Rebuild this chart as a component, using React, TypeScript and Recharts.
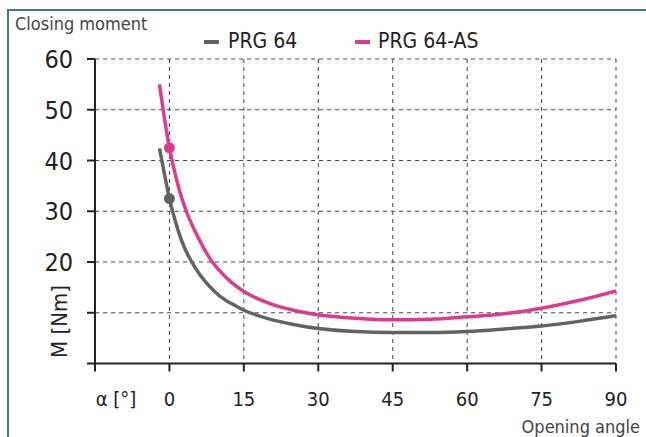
import React from "react"
import { CartesianGrid, Label, Line, LineChart, XAxis, YAxis } from "recharts"

const xTicks = [-15, 0, 15, 30, 45, 60, 75, 90]
const yTicks = [0, 10, 20, 30, 40, 50, 60]

const prg64Angles = [-2, -1, 0, 1, 2, 3, 4.5, 6, 8, 10, 12.5, 15, 20, 25, 30, 37.5, 45, 52.5, 60, 67.5, 75, 82.5, 90]
const prg64Moments = [42.4, 37.3, 32.5, 28.7, 25.5, 22.9, 20, 17.7, 15.3, 13.4, 11.8, 10.5, 8.8, 7.7, 6.9, 6.3, 6.1, 6.1, 6.3, 6.8, 7.4, 8.3, 9.4]

const prg64asAngles = [-2, -1, 0, 1, 2, 3.4, 5, 7, 8.5, 10, 12.5, 15, 20, 25, 30, 37.5, 45, 52.5, 60, 67.5, 75, 82.5, 90]
const prg64asMoments = [55, 48.3, 42.5, 38, 34.2, 30, 26.4, 22.6, 20.2, 18.4, 16, 14.2, 11.9, 10.5, 9.6, 8.9, 8.6, 8.7, 9.2, 9.8, 10.9, 12.4, 14.3]

const markerAngle = 0

const GRAY = "#626264"
const PINK = "#de3a8f"
const FONT = "'DejaVu Sans Condensed', 'DejaVu Sans', sans-serif"
const TXT = { fontFamily: FONT, fontStretch: "condensed" as const }

const prg64 = prg64Angles.map((a, i) => ({ angle: a, m: prg64Moments[i] }))
const prg64as = prg64asAngles.map((a, i) => ({ angle: a, m: prg64asMoments[i] }))

const markerDot = (color: string) => (props: any) => {
  const { cx, cy, payload, index } = props
  if (payload.angle !== markerAngle) return <g key={index} />
  return <circle key={index} cx={cx} cy={cy} r={5.5} fill={color} />
}

const XTick = (props: any) => {
  const { x, y, payload } = props
  const label = payload.value === -15 ? "α [°]" : String(payload.value)
  return (
    <text x={payload.value === -15 ? x + 21 : x} y={y} dy="0.71em" textAnchor="middle" fontSize={20} fill="#222" style={TXT}>
      {label}
    </text>
  )
}

const YTick = (props: any) => {
  const { x, y, payload } = props
  if (payload.value < 20) return <g />
  return (
    <text x={x} y={y} dy="0.36em" textAnchor="end" fontSize={25} fill="#222" style={TXT}>
      {payload.value}
    </text>
  )
}

export default function App() {
  return (
    <div style={{ position: "absolute", left: 0, top: 0, width: 646, height: 437, background: "#fff", overflow: "hidden", ...TXT }}>
      <div style={{ position: "absolute", left: 7, top: 9, width: 700, height: 500, border: "2px solid #4a7398" }} />
      <div style={{ position: "absolute", left: 15, top: 13, fontSize: 18, color: "#444" }}>Closing moment</div>
      <div style={{ position: "absolute", right: 6, top: 416, fontSize: 18, color: "#444" }}>Opening angle</div>
      <div style={{ position: "absolute", left: 204, top: 40, width: 15, height: 4, background: GRAY }} />
      <div style={{ position: "absolute", left: 228, top: 29, fontSize: 21, color: "#222" }}>PRG 64</div>
      <div style={{ position: "absolute", left: 355, top: 40, width: 15, height: 4, background: PINK }} />
      <div style={{ position: "absolute", left: 378, top: 29, fontSize: 21, color: "#222" }}>PRG 64-AS</div>
      <div style={{ position: "absolute", left: 0, top: 0 }}>
        <LineChart width={646} height={437} margin={{ top: 59, right: 30, bottom: 43.5, left: 35 }}>
          <CartesianGrid stroke="#444" strokeDasharray="4 4" strokeWidth={1} />
          <XAxis
            type="number"
            dataKey="angle"
            domain={[-15, 90]}
            ticks={xTicks}
            interval={0}
            allowDataOverflow
            height={30}
            tickSize={8}
            tickMargin={20}
            stroke="#222"
            strokeWidth={2}
            tick={<XTick />}
          />
          <YAxis
            type="number"
            dataKey="m"
            domain={[0, 60]}
            ticks={yTicks}
            interval={0}
            width={60}
            tickSize={8}
            tickMargin={14}
            stroke="#222"
            strokeWidth={2}
            tick={<YTick />}
          >
            <Label
              content={(props: any) => {
                const vb = props.viewBox
                const x = vb.x + 24
                const y = vb.y + vb.height - 42
                return (
                  <text x={x} y={y} transform={`rotate(-90 ${x} ${y})`} textAnchor="middle" dominantBaseline="central" fontSize={22} fill="#222" style={TXT}>
                    M [Nm]
                  </text>
                )
              }}
            />
          </YAxis>
          <Line data={prg64} dataKey="m" type="monotone" stroke={GRAY} strokeWidth={3.5} dot={markerDot(GRAY)} activeDot={false} isAnimationActive={false} />
          <Line data={prg64as} dataKey="m" type="monotone" stroke={PINK} strokeWidth={3.5} dot={markerDot(PINK)} activeDot={false} isAnimationActive={false} />
        </LineChart>
      </div>
    </div>
  )
}
